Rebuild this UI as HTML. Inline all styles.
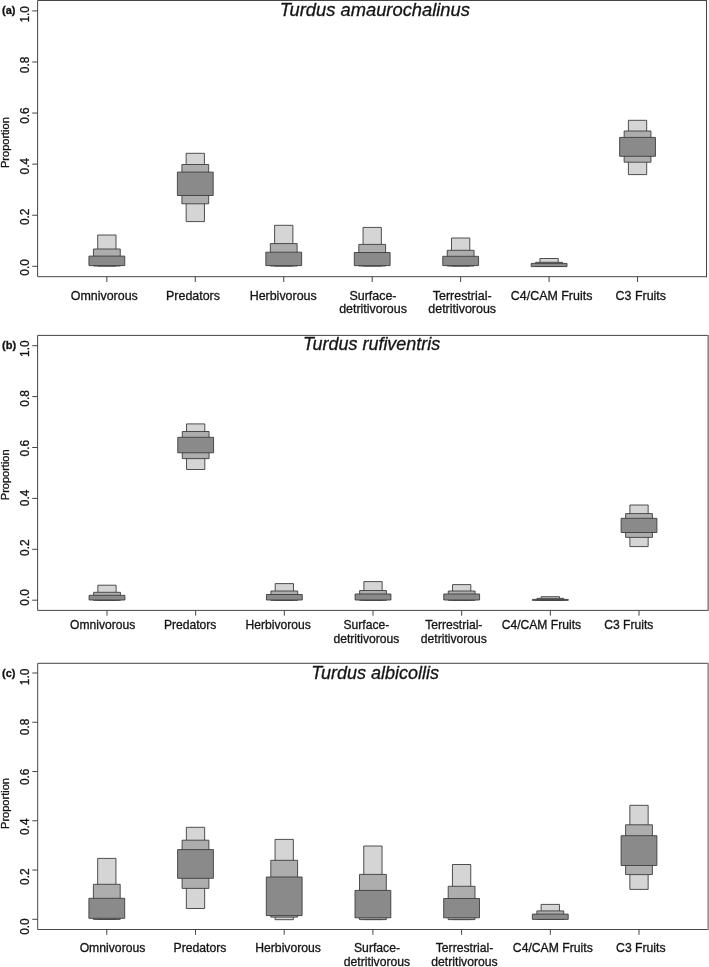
<!DOCTYPE html>
<html><head><meta charset="utf-8"><title>Turdus diet proportions</title>
<style>html,body{margin:0;padding:0;background:#fff}body{width:709px;height:967px;overflow:hidden}svg{display:block}svg{will-change:transform}text{font-family:"Liberation Sans",sans-serif;fill:#141414;stroke:#141414;stroke-width:0.3px}</style></head><body>
<svg width="709" height="967" viewBox="0 0 709 967">
<rect width="709" height="967" fill="#fff"/>
<g>
<rect x="97.70" y="235.00" width="18.30" height="31.00" fill="#d5d5d5" stroke="#3d3d3d" stroke-width="0.9" stroke-linejoin="round"/>
<rect x="93.45" y="249.00" width="26.80" height="17.00" fill="#adadad" stroke="#3d3d3d" stroke-width="0.9" stroke-linejoin="round"/>
<rect x="88.95" y="256.10" width="35.80" height="9.50" fill="#8a8a8a" stroke="#3d3d3d" stroke-width="0.9" stroke-linejoin="round"/>
<rect x="186.15" y="153.30" width="18.30" height="68.30" fill="#d5d5d5" stroke="#3d3d3d" stroke-width="0.9" stroke-linejoin="round"/>
<rect x="181.90" y="164.50" width="26.80" height="39.30" fill="#adadad" stroke="#3d3d3d" stroke-width="0.9" stroke-linejoin="round"/>
<rect x="177.40" y="172.10" width="35.80" height="23.40" fill="#8a8a8a" stroke="#3d3d3d" stroke-width="0.9" stroke-linejoin="round"/>
<rect x="274.60" y="225.30" width="18.30" height="40.70" fill="#d5d5d5" stroke="#3d3d3d" stroke-width="0.9" stroke-linejoin="round"/>
<rect x="270.35" y="243.60" width="26.80" height="22.40" fill="#adadad" stroke="#3d3d3d" stroke-width="0.9" stroke-linejoin="round"/>
<rect x="265.85" y="252.20" width="35.80" height="13.40" fill="#8a8a8a" stroke="#3d3d3d" stroke-width="0.9" stroke-linejoin="round"/>
<rect x="363.05" y="227.40" width="18.30" height="38.60" fill="#d5d5d5" stroke="#3d3d3d" stroke-width="0.9" stroke-linejoin="round"/>
<rect x="358.80" y="244.40" width="26.80" height="21.60" fill="#adadad" stroke="#3d3d3d" stroke-width="0.9" stroke-linejoin="round"/>
<rect x="354.30" y="252.50" width="35.80" height="13.10" fill="#8a8a8a" stroke="#3d3d3d" stroke-width="0.9" stroke-linejoin="round"/>
<rect x="451.50" y="238.00" width="18.30" height="28.00" fill="#d5d5d5" stroke="#3d3d3d" stroke-width="0.9" stroke-linejoin="round"/>
<rect x="447.25" y="250.30" width="26.80" height="15.70" fill="#adadad" stroke="#3d3d3d" stroke-width="0.9" stroke-linejoin="round"/>
<rect x="442.75" y="256.30" width="35.80" height="9.30" fill="#8a8a8a" stroke="#3d3d3d" stroke-width="0.9" stroke-linejoin="round"/>
<rect x="539.95" y="258.50" width="18.30" height="7.50" fill="#d5d5d5" stroke="#3d3d3d" stroke-width="0.9" stroke-linejoin="round"/>
<rect x="535.70" y="262.30" width="26.80" height="3.70" fill="#adadad" stroke="#3d3d3d" stroke-width="0.9" stroke-linejoin="round"/>
<rect x="531.20" y="263.40" width="35.80" height="3.20" fill="#8a8a8a" stroke="#3d3d3d" stroke-width="0.9" stroke-linejoin="round"/>
<rect x="628.40" y="120.30" width="18.30" height="54.30" fill="#d5d5d5" stroke="#3d3d3d" stroke-width="0.9" stroke-linejoin="round"/>
<rect x="624.15" y="131.00" width="26.80" height="31.20" fill="#adadad" stroke="#3d3d3d" stroke-width="0.9" stroke-linejoin="round"/>
<rect x="619.65" y="137.40" width="35.80" height="18.90" fill="#8a8a8a" stroke="#3d3d3d" stroke-width="0.9" stroke-linejoin="round"/>
<polyline points="706.50,0.50 37.60,0.50 37.60,276.70 706.50,276.70" fill="none" stroke="#454545" stroke-width="1"/>
<line x1="706.50" y1="0.00" x2="706.50" y2="277.20" stroke="#454545" stroke-width="1.00"/>
<line x1="32.20" y1="266.30" x2="37.60" y2="266.30" stroke="#454545" stroke-width="1"/>
<text transform="translate(29.4,267.40) rotate(-90)" text-anchor="middle" font-size="11.9">0.0</text>
<line x1="32.20" y1="215.22" x2="37.60" y2="215.22" stroke="#454545" stroke-width="1"/>
<text transform="translate(29.4,216.78) rotate(-90)" text-anchor="middle" font-size="11.9">0.2</text>
<line x1="32.20" y1="164.14" x2="37.60" y2="164.14" stroke="#454545" stroke-width="1"/>
<text transform="translate(29.4,166.16) rotate(-90)" text-anchor="middle" font-size="11.9">0.4</text>
<line x1="32.20" y1="113.06" x2="37.60" y2="113.06" stroke="#454545" stroke-width="1"/>
<text transform="translate(29.4,115.54) rotate(-90)" text-anchor="middle" font-size="11.9">0.6</text>
<line x1="32.20" y1="61.98" x2="37.60" y2="61.98" stroke="#454545" stroke-width="1"/>
<text transform="translate(29.4,64.92) rotate(-90)" text-anchor="middle" font-size="11.9">0.8</text>
<line x1="32.20" y1="10.90" x2="37.60" y2="10.90" stroke="#454545" stroke-width="1"/>
<text transform="translate(29.4,14.30) rotate(-90)" text-anchor="middle" font-size="11.9">1.0</text>
<line x1="106.85" y1="276.70" x2="106.85" y2="282.00" stroke="#454545" stroke-width="1"/>
<text x="104.30" y="299.70" text-anchor="middle" font-size="12.45">Omnivorous</text>
<line x1="195.30" y1="276.70" x2="195.30" y2="282.00" stroke="#454545" stroke-width="1"/>
<text x="193.00" y="299.70" text-anchor="middle" font-size="12.45">Predators</text>
<line x1="283.75" y1="276.70" x2="283.75" y2="282.00" stroke="#454545" stroke-width="1"/>
<text x="283.20" y="299.70" text-anchor="middle" font-size="12.45">Herbivorous</text>
<line x1="372.20" y1="276.70" x2="372.20" y2="282.00" stroke="#454545" stroke-width="1"/>
<text x="373.00" y="299.70" text-anchor="middle" font-size="12.45">Surface-</text>
<text x="373.00" y="313.30" text-anchor="middle" font-size="12.45">detritivorous</text>
<line x1="460.65" y1="276.70" x2="460.65" y2="282.00" stroke="#454545" stroke-width="1"/>
<text x="462.20" y="299.70" text-anchor="middle" font-size="12.45">Terrestrial-</text>
<text x="462.20" y="313.30" text-anchor="middle" font-size="12.45">detritivorous</text>
<line x1="549.10" y1="276.70" x2="549.10" y2="282.00" stroke="#454545" stroke-width="1"/>
<text x="551.60" y="299.70" text-anchor="middle" font-size="12.45">C4/CAM Fruits</text>
<line x1="637.55" y1="276.70" x2="637.55" y2="282.00" stroke="#454545" stroke-width="1"/>
<text x="640.80" y="299.70" text-anchor="middle" font-size="12.45">C3 Fruits</text>
<text transform="translate(8.80,142.60) rotate(-90)" text-anchor="middle" font-size="11">Proportion</text>
<text x="374.80" y="15.60" text-anchor="middle" font-size="18.35" font-style="italic">Turdus amaurochalinus</text>
<text x="2.00" y="13.60" font-size="11" font-weight="bold">(a)</text>
</g>
<g>
<rect x="97.85" y="585.20" width="18.30" height="15.10" fill="#d5d5d5" stroke="#3d3d3d" stroke-width="0.9" stroke-linejoin="round"/>
<rect x="93.60" y="592.30" width="26.80" height="8.00" fill="#adadad" stroke="#3d3d3d" stroke-width="0.9" stroke-linejoin="round"/>
<rect x="89.10" y="595.30" width="35.80" height="4.70" fill="#8a8a8a" stroke="#3d3d3d" stroke-width="0.9" stroke-linejoin="round"/>
<rect x="186.52" y="423.90" width="18.30" height="45.60" fill="#d5d5d5" stroke="#3d3d3d" stroke-width="0.9" stroke-linejoin="round"/>
<rect x="182.27" y="431.50" width="26.80" height="27.10" fill="#adadad" stroke="#3d3d3d" stroke-width="0.9" stroke-linejoin="round"/>
<rect x="177.77" y="437.30" width="35.80" height="15.50" fill="#8a8a8a" stroke="#3d3d3d" stroke-width="0.9" stroke-linejoin="round"/>
<rect x="275.19" y="583.60" width="18.30" height="16.70" fill="#d5d5d5" stroke="#3d3d3d" stroke-width="0.9" stroke-linejoin="round"/>
<rect x="270.94" y="591.00" width="26.80" height="9.30" fill="#adadad" stroke="#3d3d3d" stroke-width="0.9" stroke-linejoin="round"/>
<rect x="266.44" y="594.50" width="35.80" height="5.50" fill="#8a8a8a" stroke="#3d3d3d" stroke-width="0.9" stroke-linejoin="round"/>
<rect x="363.86" y="581.60" width="18.30" height="18.70" fill="#d5d5d5" stroke="#3d3d3d" stroke-width="0.9" stroke-linejoin="round"/>
<rect x="359.61" y="590.50" width="26.80" height="9.80" fill="#adadad" stroke="#3d3d3d" stroke-width="0.9" stroke-linejoin="round"/>
<rect x="355.11" y="594.00" width="35.80" height="6.00" fill="#8a8a8a" stroke="#3d3d3d" stroke-width="0.9" stroke-linejoin="round"/>
<rect x="452.53" y="584.60" width="18.30" height="15.70" fill="#d5d5d5" stroke="#3d3d3d" stroke-width="0.9" stroke-linejoin="round"/>
<rect x="448.28" y="591.00" width="26.80" height="9.30" fill="#adadad" stroke="#3d3d3d" stroke-width="0.9" stroke-linejoin="round"/>
<rect x="443.78" y="594.00" width="35.80" height="6.00" fill="#8a8a8a" stroke="#3d3d3d" stroke-width="0.9" stroke-linejoin="round"/>
<rect x="541.20" y="596.70" width="18.30" height="3.60" fill="#d5d5d5" stroke="#3d3d3d" stroke-width="0.9" stroke-linejoin="round"/>
<rect x="536.95" y="598.30" width="26.80" height="2.00" fill="#adadad" stroke="#3d3d3d" stroke-width="0.9" stroke-linejoin="round"/>
<rect x="532.45" y="599.40" width="35.80" height="1.00" fill="#8a8a8a" stroke="#3d3d3d" stroke-width="0.9" stroke-linejoin="round"/>
<rect x="629.87" y="505.00" width="18.30" height="41.60" fill="#d5d5d5" stroke="#3d3d3d" stroke-width="0.9" stroke-linejoin="round"/>
<rect x="625.62" y="513.60" width="26.80" height="23.80" fill="#adadad" stroke="#3d3d3d" stroke-width="0.9" stroke-linejoin="round"/>
<rect x="621.12" y="518.30" width="35.80" height="14.20" fill="#8a8a8a" stroke="#3d3d3d" stroke-width="0.9" stroke-linejoin="round"/>
<polyline points="708.20,335.40 37.60,335.40 37.60,610.40 708.20,610.40" fill="none" stroke="#454545" stroke-width="1"/>
<line x1="708.20" y1="334.90" x2="708.20" y2="610.90" stroke="#8c8c8c" stroke-width="1.70"/>
<line x1="32.20" y1="600.20" x2="37.60" y2="600.20" stroke="#454545" stroke-width="1"/>
<text transform="translate(29.4,597.45) rotate(-90)" text-anchor="middle" font-size="11.9">0.0</text>
<line x1="32.20" y1="549.30" x2="37.60" y2="549.30" stroke="#454545" stroke-width="1"/>
<text transform="translate(29.4,547.70) rotate(-90)" text-anchor="middle" font-size="11.9">0.2</text>
<line x1="32.20" y1="498.40" x2="37.60" y2="498.40" stroke="#454545" stroke-width="1"/>
<text transform="translate(29.4,497.95) rotate(-90)" text-anchor="middle" font-size="11.9">0.4</text>
<line x1="32.20" y1="447.50" x2="37.60" y2="447.50" stroke="#454545" stroke-width="1"/>
<text transform="translate(29.4,448.20) rotate(-90)" text-anchor="middle" font-size="11.9">0.6</text>
<line x1="32.20" y1="396.60" x2="37.60" y2="396.60" stroke="#454545" stroke-width="1"/>
<text transform="translate(29.4,398.45) rotate(-90)" text-anchor="middle" font-size="11.9">0.8</text>
<line x1="32.20" y1="345.70" x2="37.60" y2="345.70" stroke="#454545" stroke-width="1"/>
<text transform="translate(29.4,348.70) rotate(-90)" text-anchor="middle" font-size="11.9">1.0</text>
<line x1="107.00" y1="610.40" x2="107.00" y2="615.70" stroke="#454545" stroke-width="1"/>
<text x="102.70" y="628.60" text-anchor="middle" font-size="12.10">Omnivorous</text>
<line x1="195.67" y1="610.40" x2="195.67" y2="615.70" stroke="#454545" stroke-width="1"/>
<text x="190.10" y="628.60" text-anchor="middle" font-size="12.10">Predators</text>
<line x1="284.34" y1="610.40" x2="284.34" y2="615.70" stroke="#454545" stroke-width="1"/>
<text x="278.20" y="628.60" text-anchor="middle" font-size="12.10">Herbivorous</text>
<line x1="373.01" y1="610.40" x2="373.01" y2="615.70" stroke="#454545" stroke-width="1"/>
<text x="366.40" y="628.60" text-anchor="middle" font-size="12.10">Surface-</text>
<text x="366.40" y="642.50" text-anchor="middle" font-size="12.10">detritivorous</text>
<line x1="461.68" y1="610.40" x2="461.68" y2="615.70" stroke="#454545" stroke-width="1"/>
<text x="453.80" y="628.60" text-anchor="middle" font-size="12.10">Terrestrial-</text>
<text x="453.80" y="642.50" text-anchor="middle" font-size="12.10">detritivorous</text>
<line x1="550.35" y1="610.40" x2="550.35" y2="615.70" stroke="#454545" stroke-width="1"/>
<text x="541.40" y="628.60" text-anchor="middle" font-size="12.10">C4/CAM Fruits</text>
<line x1="639.02" y1="610.40" x2="639.02" y2="615.70" stroke="#454545" stroke-width="1"/>
<text x="628.80" y="628.60" text-anchor="middle" font-size="12.10">C3 Fruits</text>
<text transform="translate(9.10,474.80) rotate(-90)" text-anchor="middle" font-size="11">Proportion</text>
<text x="371.60" y="350.30" text-anchor="middle" font-size="17.95" font-style="italic">Turdus rufiventris</text>
<text x="2.00" y="349.40" font-size="11" font-weight="bold">(b)</text>
</g>
<g>
<rect x="97.65" y="858.40" width="18.30" height="61.00" fill="#d5d5d5" stroke="#3d3d3d" stroke-width="0.9" stroke-linejoin="round"/>
<rect x="93.40" y="884.30" width="26.80" height="35.10" fill="#adadad" stroke="#3d3d3d" stroke-width="0.9" stroke-linejoin="round"/>
<rect x="88.90" y="898.30" width="35.80" height="20.00" fill="#8a8a8a" stroke="#3d3d3d" stroke-width="0.9" stroke-linejoin="round"/>
<rect x="186.35" y="827.30" width="18.30" height="81.20" fill="#d5d5d5" stroke="#3d3d3d" stroke-width="0.9" stroke-linejoin="round"/>
<rect x="182.10" y="840.20" width="26.80" height="48.20" fill="#adadad" stroke="#3d3d3d" stroke-width="0.9" stroke-linejoin="round"/>
<rect x="177.60" y="849.60" width="35.80" height="28.70" fill="#8a8a8a" stroke="#3d3d3d" stroke-width="0.9" stroke-linejoin="round"/>
<rect x="275.05" y="839.40" width="18.30" height="80.30" fill="#d5d5d5" stroke="#3d3d3d" stroke-width="0.9" stroke-linejoin="round"/>
<rect x="270.80" y="860.30" width="26.80" height="56.80" fill="#adadad" stroke="#3d3d3d" stroke-width="0.9" stroke-linejoin="round"/>
<rect x="266.30" y="877.00" width="35.80" height="38.60" fill="#8a8a8a" stroke="#3d3d3d" stroke-width="0.9" stroke-linejoin="round"/>
<rect x="363.75" y="846.00" width="18.30" height="73.60" fill="#d5d5d5" stroke="#3d3d3d" stroke-width="0.9" stroke-linejoin="round"/>
<rect x="359.50" y="874.40" width="26.80" height="45.20" fill="#adadad" stroke="#3d3d3d" stroke-width="0.9" stroke-linejoin="round"/>
<rect x="355.00" y="890.40" width="35.80" height="27.40" fill="#8a8a8a" stroke="#3d3d3d" stroke-width="0.9" stroke-linejoin="round"/>
<rect x="452.45" y="864.50" width="18.30" height="55.10" fill="#d5d5d5" stroke="#3d3d3d" stroke-width="0.9" stroke-linejoin="round"/>
<rect x="448.20" y="886.30" width="26.80" height="33.30" fill="#adadad" stroke="#3d3d3d" stroke-width="0.9" stroke-linejoin="round"/>
<rect x="443.70" y="898.50" width="35.80" height="19.30" fill="#8a8a8a" stroke="#3d3d3d" stroke-width="0.9" stroke-linejoin="round"/>
<rect x="541.15" y="904.40" width="18.30" height="15.00" fill="#d5d5d5" stroke="#3d3d3d" stroke-width="0.9" stroke-linejoin="round"/>
<rect x="536.90" y="910.90" width="26.80" height="8.50" fill="#adadad" stroke="#3d3d3d" stroke-width="0.9" stroke-linejoin="round"/>
<rect x="532.40" y="914.10" width="35.80" height="5.30" fill="#8a8a8a" stroke="#3d3d3d" stroke-width="0.9" stroke-linejoin="round"/>
<rect x="629.85" y="805.30" width="18.30" height="84.10" fill="#d5d5d5" stroke="#3d3d3d" stroke-width="0.9" stroke-linejoin="round"/>
<rect x="625.60" y="824.80" width="26.80" height="49.80" fill="#adadad" stroke="#3d3d3d" stroke-width="0.9" stroke-linejoin="round"/>
<rect x="621.10" y="835.70" width="35.80" height="29.80" fill="#8a8a8a" stroke="#3d3d3d" stroke-width="0.9" stroke-linejoin="round"/>
<polyline points="708.20,663.30 37.70,663.30 37.70,929.50 708.20,929.50" fill="none" stroke="#454545" stroke-width="1"/>
<line x1="708.20" y1="662.80" x2="708.20" y2="930.00" stroke="#969696" stroke-width="1.70"/>
<line x1="32.30" y1="919.30" x2="37.70" y2="919.30" stroke="#454545" stroke-width="1"/>
<text transform="translate(29.4,926.60) rotate(-90)" text-anchor="middle" font-size="11.9">0.0</text>
<line x1="32.30" y1="870.04" x2="37.70" y2="870.04" stroke="#454545" stroke-width="1"/>
<text transform="translate(29.4,876.67) rotate(-90)" text-anchor="middle" font-size="11.9">0.2</text>
<line x1="32.30" y1="820.78" x2="37.70" y2="820.78" stroke="#454545" stroke-width="1"/>
<text transform="translate(29.4,826.74) rotate(-90)" text-anchor="middle" font-size="11.9">0.4</text>
<line x1="32.30" y1="771.52" x2="37.70" y2="771.52" stroke="#454545" stroke-width="1"/>
<text transform="translate(29.4,776.81) rotate(-90)" text-anchor="middle" font-size="11.9">0.6</text>
<line x1="32.30" y1="722.26" x2="37.70" y2="722.26" stroke="#454545" stroke-width="1"/>
<text transform="translate(29.4,726.88) rotate(-90)" text-anchor="middle" font-size="11.9">0.8</text>
<line x1="32.30" y1="673.00" x2="37.70" y2="673.00" stroke="#454545" stroke-width="1"/>
<text transform="translate(29.4,676.95) rotate(-90)" text-anchor="middle" font-size="11.9">1.0</text>
<line x1="106.80" y1="929.50" x2="106.80" y2="934.80" stroke="#454545" stroke-width="1"/>
<text x="112.50" y="952.00" text-anchor="middle" font-size="12.20">Omnivorous</text>
<line x1="195.50" y1="929.50" x2="195.50" y2="934.80" stroke="#454545" stroke-width="1"/>
<text x="200.00" y="952.00" text-anchor="middle" font-size="12.20">Predators</text>
<line x1="284.20" y1="929.50" x2="284.20" y2="934.80" stroke="#454545" stroke-width="1"/>
<text x="288.10" y="952.00" text-anchor="middle" font-size="12.20">Herbivorous</text>
<line x1="372.90" y1="929.50" x2="372.90" y2="934.80" stroke="#454545" stroke-width="1"/>
<text x="377.00" y="952.00" text-anchor="middle" font-size="12.20">Surface-</text>
<text x="377.00" y="965.60" text-anchor="middle" font-size="12.20">detritivorous</text>
<line x1="461.60" y1="929.50" x2="461.60" y2="934.80" stroke="#454545" stroke-width="1"/>
<text x="464.50" y="952.00" text-anchor="middle" font-size="12.20">Terrestrial-</text>
<text x="464.50" y="965.60" text-anchor="middle" font-size="12.20">detritivorous</text>
<line x1="550.30" y1="929.50" x2="550.30" y2="934.80" stroke="#454545" stroke-width="1"/>
<text x="552.80" y="952.00" text-anchor="middle" font-size="12.20">C4/CAM Fruits</text>
<line x1="639.00" y1="929.50" x2="639.00" y2="934.80" stroke="#454545" stroke-width="1"/>
<text x="640.80" y="952.00" text-anchor="middle" font-size="12.20">C3 Fruits</text>
<text transform="translate(8.80,803.50) rotate(-90)" text-anchor="middle" font-size="11">Proportion</text>
<text x="375.20" y="678.60" text-anchor="middle" font-size="18.00" font-style="italic">Turdus albicollis</text>
<text x="2.00" y="677.00" font-size="11" font-weight="bold">(c)</text>
</g>
</svg></body></html>
